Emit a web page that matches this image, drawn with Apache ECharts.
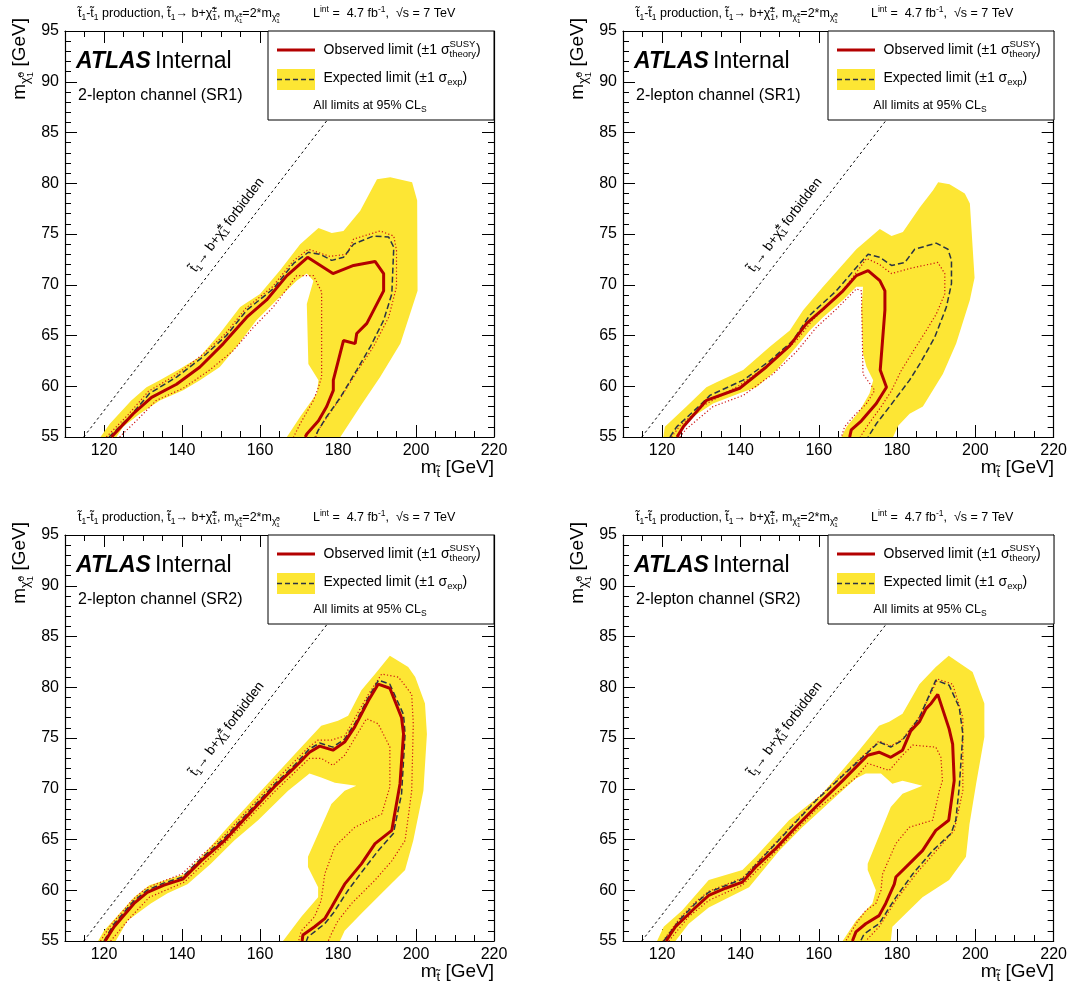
<!DOCTYPE html>
<html>
<head>
<meta charset="utf-8">
<script src="https://cdn.jsdelivr.net/npm/echarts@6/dist/echarts.min.js"></script>
<style>
  html, body { margin: 0; padding: 0; background: #fff; }
  #chart { width: 1070px; height: 990px; }
</style>
</head>
<body>
<div id="chart"></div>
<script>
// axis ticks
const X_MAJOR = [120, 140, 160, 180, 200, 220];

// kinematic boundary m(stop) = m(b) + m(chargino)
const forbiddenLine = [[114.8, 55], [194.8, 95]];

// ---- SR1, left panel ----
const sr1aBandOuter = [[119.1,55],[121.5,56.3],[127,58.6],[130.9,59.9],[134.3,60.6],[139.4,61.7],[144.6,62.9],[149.7,65.2],[154.9,67.8],[160,69.1],[165.1,71.4],[170.3,74.0],[175,75.6],[178.4,75.1],[181.4,75.3],[185.7,77.3],[190,80.4],[193.4,80.6],[199,80.1],[200.3,78.3],[200.4,69.4],[196,64.2],[190.8,60.9],[185.7,58],[180.6,55]];
const sr1aBandInner = [[166.9,55],[170.3,57],[174.6,59.3],[175,60.6],[172.4,62.2],[172,68.1],[173.7,70.4],[172,71.1],[169.4,70.4],[164.3,68.5],[159.1,66.5],[154,63.9],[149.7,61.9],[144.6,60.6],[140.3,59.6],[134.3,58.6],[129.2,57.3],[124.9,56],[123.2,55]];
const sr1aObs = [[121.9,55],[123.6,55.7],[127.5,57.3],[132.2,58.9],[138.6,60.2],[144.6,61.9],[150.6,64.2],[156.6,66.8],[161.7,68.5],[166.9,70.9],[172.2,72.7],[178.7,71.1],[184,71.9],[189.5,72.3],[191.7,71.1],[191.7,69.4],[187.4,66.2],[184.8,65.2],[184.4,64.2],[181.4,64.5],[178.8,60.6],[178.8,59.6],[177.1,58],[175,56.6],[172,55.3],[171.6,55]];
const sr1aExp = [[121.3,55],[126.6,57],[131.7,59.3],[138.6,60.9],[145.4,62.9],[151.4,65],[156.6,67.5],[163.4,69.6],[168.6,72.1],[172.4,73.2],[175.4,73],[178.4,72.4],[181.4,72.7],[184,74],[189.1,74.8],[193,74.7],[194.3,73.7],[193.8,69.1],[191.7,66.5],[188.3,63.9],[184.8,61.6],[180.6,58.9],[177.1,57],[175,55.7],[174.1,55]];
const sr1aObsUp = [[120.6,55],[126.2,57.2],[131.4,59.5],[138.4,61.1],[145.2,63.1],[151.2,65.2],[156.4,67.7],[163.2,69.8],[168.4,72.3],[172.4,73.5],[177.9,72.8],[182.3,73.0],[184,74.5],[190.8,75.3],[194.3,74.8],[195,73.4],[195,69.8],[193,66.8],[189.1,63.9],[184.8,61.4],[180.4,58.7],[176.9,56.8],[174.8,55.6],[174.3,55]];
const sr1aObsDown = [[124,55],[128.3,56.6],[133.4,58.6],[140.3,59.8],[147.1,61.6],[153.1,63.5],[158.3,65.8],[163.4,67.8],[169.4,70.9],[173.7,70.9],[175.8,69.3],[175.8,60.9],[175,59.9],[173.7,58.6],[170.3,56.3],[168.6,55]];

// ---- SR1, right panel ----
const sr1bBandOuter = [[120.3,55],[120.7,56],[126.2,58],[131.3,59.9],[133.9,60.4],[140.7,61.6],[147.5,63.9],[152.6,65.5],[156,67.5],[161.1,69.8],[169.6,73.5],[175.6,75.5],[178.6,74.8],[181.5,75.2],[185.8,77.6],[189.2,79.3],[190.5,80.1],[193.4,79.9],[197.3,79],[198.6,78],[199.8,70.7],[198.6,68.5],[195.1,64.2],[191.7,61.2],[186.6,58],[183.2,57.3],[180.3,56.1],[179,55]];
const sr1bBandInner = [[165.8,55],[167.1,56],[170.5,57.6],[173,59.3],[173.9,60.6],[172.2,61.9],[171.3,63.2],[170.9,67.5],[171.3,69.8],[169.6,69.8],[166.2,68.5],[161.1,66.8],[157.7,65.5],[154.3,63.9],[149.2,61.6],[144.1,59.9],[139.8,59.3],[133,58.3],[127.9,57],[124.5,55.7],[123.8,55]];
const sr1bObs = [[123.8,55],[125.4,56],[131.3,58.6],[139.8,59.8],[146.6,61.9],[152.6,64],[156.9,66.2],[161.1,67.6],[166.2,69.4],[169.6,70.9],[172.6,71.4],[175.6,70.4],[176.9,69.4],[176.9,67.5],[175.7,61.6],[177.3,59.9],[174.7,58.3],[170.9,56.6],[168.3,55.7],[167.9,55]];
const sr1bExp = [[122,55],[123.7,56],[129.6,58.1],[132.2,59.1],[140.7,60.6],[147.5,62.5],[153.4,64.5],[157.7,67],[164.5,69.4],[169.6,71.7],[172.6,73],[175.6,72.7],[178.6,71.9],[182,72.2],[184.5,73.5],[190,74.1],[193,73.5],[193.9,72.4],[193.9,70.1],[192.6,67.8],[189.6,64.8],[185.8,62.2],[183.2,60.6],[178.1,58],[174.7,56.3],[172.6,55]];
const sr1bObsUp = [[122.4,55],[124.5,56.1],[130.5,58.1],[139.8,60.1],[147.5,62.2],[154.3,64.5],[158.6,66.6],[165.4,69.1],[169.6,71.2],[172.2,72.6],[175.5,72.0],[178.6,71.1],[183.2,71.6],[190.4,72.2],[192.2,71.1],[192.2,69.1],[190,67.1],[187,65.2],[184.2,63.5],[181,61.5],[178.5,59.5],[175.6,57.8],[172.6,56.2],[170.6,55]];
const sr1bObsDown = [[124.5,55],[126.2,55.8],[133,58],[140.7,59.1],[148.3,61.2],[154.3,63.4],[159.4,65.8],[164.5,67.6],[169.6,69.6],[170.9,69.4],[171.3,61.2],[174.3,59.6],[172.2,58.3],[168.8,57],[166.6,56],[165.8,55]];

// ---- SR2, left panel ----
const sr2aBandOuter = [[118.5,55],[120,56],[127.7,59.3],[131.6,60.5],[140.6,61.6],[145.7,63.6],[151.7,66.2],[160.3,69.8],[168.9,73.4],[175.7,76.2],[180,76.7],[182.6,77.2],[186,79.7],[189.5,81.3],[193.3,83.1],[198,82],[199.8,81],[202.3,78.4],[202.8,75.4],[201.9,69.8],[199.3,64.9],[197.2,62],[191.2,59.7],[186,57.7],[181.7,56],[180.5,55]];
const sr2aBandInner = [[165.9,55],[170.6,57.4],[174.9,59.3],[174.9,60.3],[172.3,62.3],[172.3,63.3],[178.3,68.5],[181.7,69.8],[184.7,70.3],[179.2,70.6],[175.7,71.1],[172.7,71.5],[167.2,69.8],[159.5,66.9],[153.4,64.9],[147.4,62.6],[141.4,60.6],[136.3,59.7],[132,58.7],[126,57],[123,55]];
const sr2aObs = [[120.3,55],[122.6,56.4],[127.7,58.7],[131.1,59.8],[135.4,60.5],[140.2,61.1],[144.9,62.9],[150.9,64.9],[156.9,67.4],[163.7,70.2],[168.9,72.1],[172.7,73.6],[175.3,74.2],[178.7,73.8],[181.7,74.6],[184.3,76.1],[187.8,78.7],[190.3,80.3],[193.3,79.9],[196.3,77],[196.8,75.4],[195.9,70.5],[193.8,65.9],[189.5,64.6],[186,62.6],[181.7,60.6],[178.3,58.3],[176.6,57.2],[174,56.4],[171,55.6],[170.8,55]];
const sr2aExp = [[120,55],[122.4,56.6],[127.5,58.9],[131,60],[135.3,60.7],[140.1,61.3],[144.8,63.1],[150.8,65.1],[156.8,67.6],[163.6,70.4],[168.8,72.3],[172.6,73.9],[175.3,74.5],[178.7,74.1],[181.7,74.9],[184.3,76.4],[187.8,79],[190.4,80.7],[193.3,80.3],[196.8,77.3],[197.2,75.4],[196.3,69.5],[194.2,65.6],[190.3,63.9],[186.5,62],[182.6,60],[178.7,57.7],[176.6,56.7],[172.3,55.4],[171.9,55]];
const sr2aObsUp = [[119.1,55],[121.8,56.6],[127.2,59],[130.8,60.2],[135.2,60.9],[140,61.6],[144.6,63.3],[150.6,65.3],[156.6,67.8],[163.4,70.6],[168.6,72.6],[172.5,74.1],[174.9,74.8],[178.3,74.8],[181.7,75.2],[187.8,79.3],[191.2,81.3],[195.5,81],[198.9,79.3],[199.3,76.4],[198.9,69.8],[197.2,64.9],[193.8,62.9],[189.5,61],[183.5,58.7],[180,57],[178.3,55.7],[177.5,55]];
const sr2aObsDown = [[121.7,55],[126.5,57.2],[131.6,59.3],[140.6,60.8],[150.9,64.6],[163.7,69.7],[172.7,73],[175.7,73],[178.7,72.3],[181.7,73.3],[187.3,76.9],[190.3,76.4],[193.3,74.1],[193.3,70.2],[191.2,67.5],[184.3,66.2],[179.2,64.3],[176.6,61.6],[175.7,59],[174,57.4],[170.6,56],[169.9,55]];

// ---- SR2, right panel ----
const sr2bBandOuter = [[118.7,55],[120.4,56.4],[125.1,58],[131.9,61],[140.5,62],[143.9,63.3],[152.4,66.9],[160.9,69.5],[169.5,73.4],[175.4,76.2],[178,76.6],[181.4,77.4],[185.7,80.3],[189.9,82],[193.2,83.1],[199.3,81.5],[202.3,78.4],[202.3,75.1],[200.2,70.5],[198.5,66.5],[197.6,63.3],[193.3,61],[186.5,59.3],[181.4,57.4],[178.8,56.4],[178.4,55]];
const sr2bBandInner = [[166.1,55],[169.5,57],[173.7,58.7],[174.6,60],[172.5,62],[172.5,62.6],[176.3,66.2],[178.4,68.2],[181.4,69.5],[186.5,70.3],[181.4,70.8],[178.8,70.5],[175.9,71.5],[172,71.5],[169.5,71],[164.3,69.2],[155.8,66.2],[149.9,63.9],[142.2,60.3],[131.9,58.3],[126.8,56.7],[123.4,55]];
const sr2bObs = [[121,55],[123.4,56.4],[128.5,58.3],[131.9,59.5],[136.2,60.2],[140.5,60.8],[143.9,62.3],[149,64.1],[154.1,66.2],[159.2,68.2],[166.1,70.8],[172.5,73.3],[175.4,73.6],[178.4,73.1],[181.4,73.8],[183.5,75.7],[185.7,76.6],[187.4,77.9],[188.7,78.4],[190.4,79.3],[193.3,75.9],[194.2,74.4],[194.6,70.8],[193.2,66.9],[189.9,65.9],[186.5,63.9],[183.1,62.6],[179.7,61.3],[179.3,60.6],[177.1,58.7],[175.4,57.5],[172,56.7],[169.5,55.9],[168.6,55]];
const sr2bExp = [[120.4,55],[124.5,57.1],[128.5,58.7],[131.9,59.8],[140.5,61.1],[149,64.6],[159.2,68.8],[169.5,72.5],[175.4,74.6],[178.4,74.1],[181.4,74.8],[185.7,77],[189.9,80.7],[193.3,80.2],[195.9,78],[196.8,75.4],[195.9,70.2],[195,66.9],[193.8,65.6],[189.1,63.9],[184,61.6],[179.7,59.3],[175.4,56.7],[171.6,55.7],[170.7,55]];
const sr2bObsUp = [[120.2,55],[124.4,57.2],[128.4,58.8],[131.9,59.9],[140.5,61.2],[149,64.7],[159.2,68.9],[169.5,72.6],[175.4,74.7],[178.4,74.2],[181.4,74.9],[185.7,77.1],[190.4,80.8],[194.2,80.3],[196.8,77],[196.8,69.8],[194.6,65.9],[184.8,61.6],[179.7,59],[175.4,56.4],[172,55]];
const sr2bObsDown = [[121.7,55],[126.8,57.4],[131.9,59],[140.5,60.5],[149,63.8],[159.2,67.9],[169.5,71.1],[172.5,72.5],[178,71.8],[181.4,73.3],[184,74.3],[189.9,74.1],[191.2,73.1],[191.6,70.8],[190.8,69.8],[189.1,66.9],[183.1,66.2],[179.7,64.6],[176.3,61.6],[175.9,60],[174.6,58.7],[172,58],[169.5,56.7],[166.9,55]];

const panels = [
  { box: { left: 65, top: 31, width: 429, height: 406 }, sr: 'SR1',
    outer: sr1aBandOuter, inner: sr1aBandInner, obs: sr1aObs, exp: sr1aExp, up: sr1aObsUp, down: sr1aObsDown },
  { box: { left: 623, top: 31, width: 431, height: 406 }, sr: 'SR1',
    outer: sr1bBandOuter, inner: sr1bBandInner, obs: sr1bObs, exp: sr1bExp, up: sr1bObsUp, down: sr1bObsDown },
  { box: { left: 65, top: 535, width: 429, height: 406 }, sr: 'SR2',
    outer: sr2aBandOuter, inner: sr2aBandInner, obs: sr2aObs, exp: sr2aExp, up: sr2aObsUp, down: sr2aObsDown },
  { box: { left: 623, top: 535, width: 431, height: 406 }, sr: 'SR2',
    outer: sr2bBandOuter, inner: sr2bBandInner, obs: sr2bObs, exp: sr2bExp, up: sr2bObsUp, down: sr2bObsDown }
];

const FONT = "'Liberation Sans', Arial, Helvetica, sans-serif";
const RED = '#b30000';
const DOT_RED = '#cc1111';
const YELLOW = '#fde634';
const DASH_COL = '#2a3344';

// little text-with-subscripts helper, measured on a scratch canvas
const mctx = document.createElement('canvas').getContext('2d');
function measure(t, fs, weight, italic) {
  mctx.font = (italic ? 'italic ' : '') + (weight || 'normal') + ' ' + fs + 'px ' + FONT;
  return mctx.measureText(t).width;
}
const N = t => ({ t, s: 1, dy: 0 });
const SB = t => ({ t, s: 0.68, dy: 0.3 });
const SP = t => ({ t, s: 0.68, dy: -0.38 });
const SB2 = t => ({ t, s: 0.5, dy: 0.55 });
const SP2 = t => ({ t, s: 0.5, dy: 0.08 });
const STK = (a, b) => ({ stack: [a, b] });

function tex(parts, size, align, extra, z) {
  let x = 0;
  const kids = [];
  const put = (p, x0) => {
    const fs = size * p.s;
    kids.push({
      type: 'text', x: x0, y: size * p.dy, silent: true, z: z,
      style: Object.assign({
        text: p.t, fontSize: fs, fontFamily: FONT, fill: '#000',
        align: 'left', verticalAlign: 'middle', textAlign: 'left', textVerticalAlign: 'middle'
      }, extra || {})
    });
    return measure(p.t, fs, extra && extra.fontWeight, extra && extra.fontStyle === 'italic');
  };
  parts.forEach(p => {
    if (p.stack) x += Math.max(...p.stack.map(q => put(q, x)));
    else x += put(p, x);
  });
  const shift = align === 'right' ? -x : align === 'center' ? -x / 2 : 0;
  kids.forEach(k => { k.x += shift; });
  return kids;
}
function label(parts, size, x, y, align, rotation, extra) {
  return { type: 'group', x, y, rotation: rotation || 0, z: 100, silent: true,
    children: tex(parts, size, align, extra, 100) };
}

const T1 = 't\u0303';
const CHI = '\u03c7\u0303';

const grids = [], xAxes = [], yAxes = [], series = [], graphics = [];

panels.forEach((p, i) => {
  const b = p.box;
  grids.push({ left: b.left, top: b.top, width: b.width, height: b.height, containLabel: false });

  const xBase = { gridIndex: i, type: 'value', min: 110, max: 220, splitLine: { show: false } };
  const line = { show: true, onZero: false, lineStyle: { color: '#000', width: 1.2 } };
  xAxes.push(Object.assign({}, xBase, { position: 'bottom', interval: 5, axisLine: line,
    axisTick: { inside: true, length: 6, lineStyle: { color: '#000' } }, axisLabel: { show: false } }));
  xAxes.push(Object.assign({}, xBase, { position: 'bottom', axisLine: { show: false },
    axisTick: { inside: true, length: 12, customValues: X_MAJOR, lineStyle: { color: '#000' } },
    axisLabel: { customValues: X_MAJOR, fontSize: 16, color: '#000', fontFamily: FONT, margin: 6 } }));
  xAxes.push(Object.assign({}, xBase, { position: 'top', interval: 5, axisLine: line,
    axisTick: { inside: true, length: 6, lineStyle: { color: '#000' } }, axisLabel: { show: false } }));
  xAxes.push(Object.assign({}, xBase, { position: 'top', axisLine: { show: false },
    axisTick: { inside: true, length: 12, customValues: X_MAJOR, lineStyle: { color: '#000' } },
    axisLabel: { show: false } }));

  const yBase = { gridIndex: i, type: 'value', min: 55, max: 95, interval: 5, splitLine: { show: false },
    axisLine: line, axisTick: { inside: true, length: 12, lineStyle: { color: '#000' } },
    minorTick: { show: true, splitNumber: 5, length: 6, lineStyle: { color: '#000' } } };
  yAxes.push(Object.assign({}, yBase, { position: 'left',
    axisLabel: { fontSize: 16, color: '#000', fontFamily: FONT, margin: 6 } }));
  yAxes.push(Object.assign({}, yBase, { position: 'right', axisLabel: { show: false } }));

  const xi = 4 * i + 1, yi = 2 * i;
  const band = p.outer.concat(p.inner);
  series.push({
    type: 'custom', xAxisIndex: xi, yAxisIndex: yi, silent: true, z: 1, clip: true,
    data: [[150, 70]],
    renderItem: (params, api) => ({
      type: 'polygon',
      shape: { points: band.map(pt => api.coord(pt)) },
      style: { fill: YELLOW }
    })
  });
  const ln = (data, style, z) => ({
    type: 'line', xAxisIndex: xi, yAxisIndex: yi, data, symbol: 'none', showSymbol: false,
    silent: true, clip: true, z, lineStyle: style
  });
  series.push(ln(forbiddenLine, { color: '#000', width: 1, type: [2.5, 3] }, 2));
  series.push(ln(p.up, { color: DOT_RED, width: 1.2, type: [1.2, 2.2] }, 3));
  series.push(ln(p.down, { color: DOT_RED, width: 1.2, type: [1.2, 2.2] }, 3));
  series.push(ln(p.exp, { color: DASH_COL, width: 1.5, type: [6, 3] }, 4));
  series.push(ln(p.obs, { color: RED, width: 3 }, 5));

  const L = b.left, T = b.top, W = b.width, H = b.height;
  // header
  graphics.push(label([N(T1), SB('1'), N('-' + T1), SB('1'), N(' production, ' + T1), SB('1'),
    N('\u2192 b+' + CHI), STK(SP('\u00b1'), SB('1')), N(', m'), SB(CHI), STK(SP2('\u00b1'), SB2('1')),
    N('=2*m'), SB(CHI), STK(SP2('0'), SB2('1'))], 12.5, L + 13, T - 17));
  graphics.push(label([N('L'), SP('int'), N(' =  4.7 fb'), SP('-1'), N(',  \u221as = 7 TeV')], 12.5, L + 248, T - 17));
  // axis titles
  graphics.push(label([N('m'), SB(CHI), STK(SP2('0'), SB2('1')), N(' [GeV]')], 19, L - 45, T - 13, 'right', Math.PI / 2));
  graphics.push(label([N('m'), SB(T1), N(' [GeV]')], 19, L + W, T + H + 31, 'right'));
  // ATLAS Internal
  graphics.push(label([N('ATLAS')], 23, L + 11, T + 31, 'left', 0, { fontWeight: 'bold', fontStyle: 'italic' }));
  graphics.push(label([N('Internal')], 23, L + 90, T + 31));
  graphics.push(label([N('2-lepton channel (' + p.sr + ')')], 16, L + 13, T + 65));
  // forbidden label along the diagonal
  graphics.push(label([N(T1), SB('1'), N('\u2192 b+' + CHI), STK(SP('\u00b1'), SB('1')), N(' forbidden')],
    13.5, L + 162, T + 194, 'center', 53 * Math.PI / 180));
  // legend
  const lx = L + W - 226;
  graphics.push({ type: 'rect', z: 90, silent: true, shape: { x: lx, y: T, width: 226, height: 89 },
    style: { fill: '#fff', stroke: '#000', lineWidth: 1 } });
  graphics.push({ type: 'line', z: 95, silent: true, shape: { x1: lx + 9, y1: T + 19, x2: lx + 47, y2: T + 19 },
    style: { stroke: RED, lineWidth: 3 } });
  graphics.push({ type: 'rect', z: 95, silent: true, shape: { x: lx + 9, y: T + 38, width: 38, height: 21 },
    style: { fill: YELLOW } });
  graphics.push({ type: 'line', z: 96, silent: true, shape: { x1: lx + 9, y1: T + 48.5, x2: lx + 47, y2: T + 48.5 },
    style: { stroke: DASH_COL, lineWidth: 1.5, lineDash: [5, 3] } });
  graphics.push(label([N('Observed limit (\u00b11 \u03c3'), STK(SP('SUSY'), SB('theory')), N(')')], 14, lx + 55.5, T + 19));
  graphics.push(label([N('Expected limit (\u00b11 \u03c3'), SB('exp'), N(')')], 14, lx + 55.5, T + 47));
  graphics.push(label([N('All limits at 95% CL'), SB('S')], 12.5, lx + 102, T + 75, 'center'));
});

const chart = echarts.init(document.getElementById('chart'));
chart.setOption({
  animation: false,
  backgroundColor: '#fff',
  textStyle: { fontFamily: FONT },
  grid: grids,
  xAxis: xAxes,
  yAxis: yAxes,
  series: series,
  graphic: { elements: graphics }
});
</script>
</body>
</html>
